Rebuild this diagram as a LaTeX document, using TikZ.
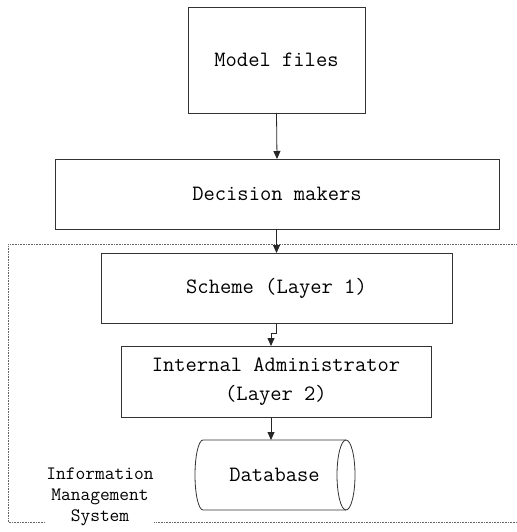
\documentclass[tikz,border=0pt]{standalone}
\usepackage{tikz}
\usetikzlibrary{positioning}
\usetikzlibrary{arrows.meta}

\begin{document}
\begin{tikzpicture}[
  x=1bp, y=-1bp,
  font=\ttfamily\fontsize{22}{29}\selectfont,
  box/.style={draw=black!80, line width=0.8bp, align=center, inner sep=0pt, outer sep=0pt},
  store/.style={inner sep=0pt, outer sep=0pt, minimum width=143bp, minimum height=70bp},
  outline/.style={draw=black!80, line width=0.8bp},
  arrow/.style={-{Triangle[length=8bp,width=7bp]}, line width=0.8bp, black!85},
  dotbox/.style={black!60, line width=0.6bp, dash pattern=on 0.8bp off 0.8bp}
]
\useasboundingbox (0,0) rectangle (517,532);

% system boundary
\draw[dotbox] (518,244) -- (8,244) -- (8,522) -- (518,522);

\node[box, minimum width=177bp, minimum height=106bp] (model) at (276.5,60) {Model files};
\node[box, minimum width=444bp, minimum height=70bp] (decision) at (277,194) {Decision makers};
\node[box, minimum width=351bp, minimum height=70bp] (scheme) at (276.5,288) {Scheme (Layer 1)};
\node[box, minimum width=310bp, minimum height=71bp] (admin) at (276,381.5) {Internal Administrator\\(Layer 2)};
\node[store] (db) at (274.5,475) {Database};
\coordinate (dbin) at (271,440);

% database drum
\draw[outline] (db.north east) -- (db.north west)
  arc[start angle=90, end angle=270, x radius=8bp, y radius=35bp] -- (db.south east);
\draw[outline] (db.east) ellipse[x radius=9bp, y radius=35bp];

\node[fill=white, inner sep=0pt, align=center, font=\ttfamily\fontsize{19}{21}\selectfont] (ims) at (100,497) {Information\\Management\\System};

\draw[arrow] (model.south) -- (decision.north);
\draw[arrow] (decision.south -| scheme.north) -- (scheme.north);
\draw[arrow] (scheme.south) -- ++(0,10) -| (dbin |- admin.north);
\draw[arrow] (dbin |- admin.south) -- (dbin);

\end{tikzpicture}
\end{document}
